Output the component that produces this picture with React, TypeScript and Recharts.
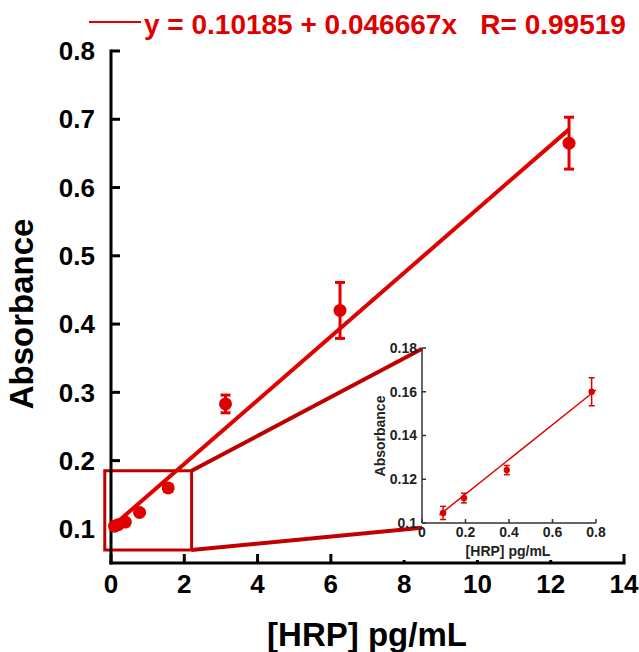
import React from 'react';
import {
  ComposedChart,
  Scatter,
  Line,
  XAxis,
  YAxis,
  ErrorBar,
  ReferenceArea,
  ReferenceLine,
  Label,
} from 'recharts';

// main calibration data
const hrpConc = [0.098, 0.195, 0.39, 0.78, 1.56, 3.125, 6.25, 12.5];
const absorbance = [0.104, 0.106, 0.11, 0.124, 0.16, 0.283, 0.42, 0.665];
const absErr = [0.003, 0.003, 0.003, 0.003, 0.005, 0.013, 0.041, 0.038];

const fitIntercept = 0.10185;
const fitSlope = 0.046667;
const fitR = 0.99519;
const fitX = [0, 12.5];

const xTicks = [0, 2, 4, 6, 8, 10, 12, 14];
const yTicks = [0.1, 0.2, 0.3, 0.4, 0.5, 0.6, 0.7, 0.8];

// zoom box + connectors (data units of main chart)
const zoomBoxX = [-0.17, 2.2];
const zoomBoxY = [0.069, 0.185];
const insetCornerX = 8.49;
const insetCornerY = [0.1015, 0.364];

// inset (low range)
const insetConc = [0.097, 0.193, 0.39, 0.78];
const insetAbs = [0.1046, 0.1114, 0.1242, 0.16];
const insetErr = [0.003, 0.0022, 0.0021, 0.0064];
const insetFitX = [0.08, 0.8];
const insetFitY = [0.1037, 0.1608];
const insetXTicks = [0, 0.2, 0.4, 0.6, 0.8];
const insetYTicks = [0.1, 0.12, 0.14, 0.16, 0.18];

const RED = '#e00000';
const DARK_RED = '#c00000';
const FONT = '"Liberation Sans", Arial, sans-serif';

const axisStyle = { stroke: '#000', strokeWidth: 3, strokeLinecap: 'square' as const };
const tickStyle = { stroke: '#000', strokeWidth: 3 };
const tickFont = { fontSize: 26, fontWeight: 'bold', fill: '#000', fontFamily: FONT };

const insetAxis = { stroke: '#333', strokeWidth: 1.5 };
const insetFont = { fontSize: 14, fontWeight: 'bold', fill: '#222', fontFamily: FONT };

const dot = (r: number, fill: string) => (p: any) => (
  <circle cx={p.cx} cy={p.cy} r={r} fill={fill} />
);

const Inset = () => {
  const pts = insetConc.map((x, i) => ({ x, y: insetAbs[i], err: insetErr[i] }));
  const fit = insetFitX.map((x, i) => ({ x, y: insetFitY[i] }));
  return (
    <ComposedChart width={270} height={230} margin={{ top: 12, right: 14, bottom: 0, left: 0 }}>
      <XAxis
        dataKey="x"
        type="number"
        domain={[0, 0.8]}
        ticks={insetXTicks}
        interval={0}
        height={43}
        tickSize={-4}
        tickMargin={8}
        tick={insetFont}
        tickFormatter={(v) => String(v)}
        axisLine={insetAxis}
        tickLine={insetAxis}
      >
        <Label
          content={() => (
            <text x={168} y={220} textAnchor="middle" style={{ ...insetFont, fontSize: 14 }}>
              [HRP] pg/mL
            </text>
          )}
        />
      </XAxis>
      <XAxis xAxisId="top" orientation="top" dataKey="x" type="number" domain={[0, 0.8]}
        ticks={insetXTicks} interval={0} height={0} tick={false} tickSize={-4}
        axisLine={insetAxis} tickLine={insetAxis} />
      <YAxis
        dataKey="y"
        type="number"
        domain={[0.1, 0.18]}
        ticks={insetYTicks}
        interval={0}
        width={82}
        tickSize={-4}
        tickMargin={9}
        tick={insetFont}
        tickFormatter={(v) => String(v)}
        axisLine={insetAxis}
        tickLine={insetAxis}
      >
        <Label
          content={() => (
            <text x={45} y={100} transform="rotate(-90 45 100)" textAnchor="middle" style={insetFont}>
              Absorbance
            </text>
          )}
        />
      </YAxis>
      <YAxis yAxisId="right" orientation="right" dataKey="y" type="number" domain={[0.1, 0.18]}
        ticks={insetYTicks} interval={0} width={0} tick={false} tickSize={-4}
        axisLine={insetAxis} tickLine={insetAxis} />
      <Line data={fit} dataKey="y" type="linear" stroke={RED} strokeWidth={1.5} dot={false} isAnimationActive={false} />
      <Scatter data={pts} dataKey="y" shape={dot(3.2, RED)} isAnimationActive={false}>
        <ErrorBar dataKey="err" direction="y" width={3} stroke={RED} strokeWidth={1.5} />
      </Scatter>
    </ComposedChart>
  );
};

export default function App() {
  const points = hrpConc.map((x, i) => ({ x, y: absorbance[i], err: absErr[i] }));
  const fit = fitX.map((x) => ({ x, y: fitIntercept + fitSlope * x }));
  const eq = `y = ${fitIntercept} + ${fitSlope}x   R= ${fitR}`;

  return (
    <div style={{ position: 'absolute', left: 0, top: 0, width: 639, height: 652, background: '#fff', fontFamily: FONT }}>
      <ComposedChart width={639} height={652} margin={{ top: 51, right: 15, bottom: 0, left: 0 }}>
        <XAxis
          dataKey="x"
          type="number"
          domain={[0, 14]}
          ticks={xTicks}
          interval={0}
          height={89}
          tickSize={-9}
          tickMargin={21}
          tick={tickFont}
          axisLine={axisStyle}
          tickLine={tickStyle}
        >
          <Label
            content={() => (
              <text x={367} y={646} textAnchor="middle" style={{ ...tickFont, fontSize: 33 }}>
                [HRP] pg/mL
              </text>
            )}
          />
        </XAxis>
        <XAxis xAxisId="top" orientation="top" dataKey="x" type="number" domain={[0, 14]}
          ticks={xTicks} interval={0} height={0} tick={false} tickSize={-9}
          axisLine={axisStyle} tickLine={tickStyle} />
        <YAxis
          dataKey="y"
          type="number"
          domain={[0.05, 0.8]}
          ticks={yTicks}
          interval={0}
          width={111}
          tickSize={-9}
          tickMargin={25}
          tick={tickFont}
          tickFormatter={(v) => v.toFixed(1)}
          axisLine={axisStyle}
          tickLine={tickStyle}
        >
          <Label
            content={() => (
              <text x={33} y={314} transform="rotate(-90 33 314)" textAnchor="middle" style={{ ...tickFont, fontSize: 33 }}>
                Absorbance
              </text>
            )}
          />
        </YAxis>
        <YAxis yAxisId="right" orientation="right" dataKey="y" type="number" domain={[0.05, 0.8]}
          ticks={yTicks} interval={0} width={0} tick={false} tickSize={-9}
          axisLine={axisStyle} tickLine={tickStyle} />

        <ReferenceArea
          x1={zoomBoxX[0]}
          x2={zoomBoxX[1]}
          y1={zoomBoxY[0]}
          y2={zoomBoxY[1]}
          fill="none"
          stroke={DARK_RED}
          strokeWidth={3}
          ifOverflow="visible"
        />
        <ReferenceLine
          segment={[{ x: zoomBoxX[1], y: zoomBoxY[1] }, { x: insetCornerX, y: insetCornerY[1] }]}
          stroke={DARK_RED}
          strokeWidth={4}
          ifOverflow="visible"
        />
        <ReferenceLine
          segment={[{ x: zoomBoxX[1], y: zoomBoxY[0] }, { x: insetCornerX, y: insetCornerY[0] }]}
          stroke={DARK_RED}
          strokeWidth={4}
          ifOverflow="visible"
        />

        <Line data={fit} dataKey="y" type="linear" stroke={RED} strokeWidth={4} dot={false} isAnimationActive={false} />
        <Scatter data={points} dataKey="y" shape={dot(6.5, RED)} isAnimationActive={false}>
          <ErrorBar dataKey="err" direction="y" width={5} stroke={RED} strokeWidth={3} />
        </Scatter>
      </ComposedChart>

      <svg width={639} height={45} style={{ position: 'absolute', left: 0, top: 0 }}>
        <line x1={89} x2={141} y1={22} y2={22} stroke={RED} strokeWidth={2} />
        <text x={144} y={34} fill={RED} style={{ fontSize: 28, fontWeight: 'bold', fontFamily: FONT, whiteSpace: 'pre' }}>
          {eq}
        </text>
      </svg>

      <div style={{ position: 'absolute', left: 395, top: 537, width: 216, height: 23, background: '#fff' }} />
      <div style={{ position: 'absolute', left: 340, top: 336 }}>
        <Inset />
      </div>
    </div>
  );
}
